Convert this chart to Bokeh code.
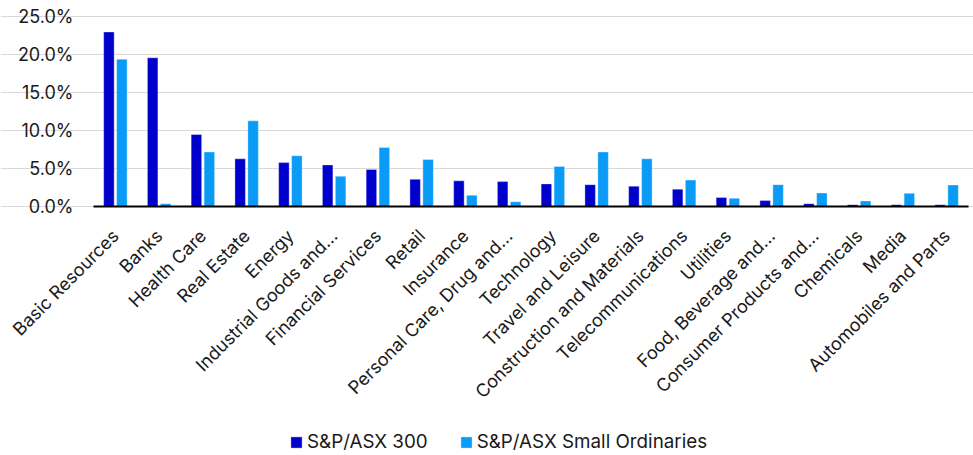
import math
from bokeh.plotting import figure
from bokeh.models import (ColumnDataSource, Range1d, FixedTicker, PrintfTickFormatter,
                          Legend, LegendItem)
from bokeh.transform import dodge
from bokeh.embed import file_html
from bokeh.resources import INLINE

categories = ["Basic Resources", "Banks", "Health Care", "Real Estate", "Energy",
              "Industrial Goods and\u2026", "Financial Services", "Retail", "Insurance",
              "Personal Care, Drug and\u2026", "Technology", "Travel and Leisure",
              "Construction and Materials", "Telecommunications", "Utilities",
              "Food, Beverage and\u2026", "Consumer Products and\u2026", "Chemicals",
              "Media", "Automobiles and Parts"]
asx300 = [23.0, 19.6, 9.5, 6.3, 5.8, 5.5, 4.9, 3.6, 3.4, 3.3, 3.0, 2.9, 2.7,
          2.3, 1.2, 0.8, 0.4, 0.26, 0.26, 0.25]
small_ords = [19.4, 0.4, 7.2, 11.3, 6.7, 4.0, 7.8, 6.2, 1.5, 0.66, 5.3, 7.2, 6.3,
              3.5, 1.1, 2.9, 1.8, 0.75, 1.75, 2.85]
y_ticks = [0, 5, 10, 15, 20, 25]
series_names = ["S&P/ASX 300", "S&P/ASX Small Ordinaries"]
colors = ["#0000CD", "#0A9BF7"]

FONT = "Inter"
TEXT = "#1A1A1A"

xpos = list(range(len(categories)))
n = len(categories)
src = ColumnDataSource(dict(x=xpos, a=asx300, b=small_ords))

# The frame covers the whole canvas; axes are pinned inside it so that
# the rotated labels and the legend are never clipped.
# 43.75 px per category, 7.6 px per 1 %.
p = figure(x_range=Range1d(-2.626, n - 0.5 + 5 / 43.75),
           y_range=Range1d(-249 / 7.6, 25 + 16.3 / 7.6),
           frame_width=973, frame_height=455,
           output_backend="svg", toolbar_location=None,
           min_border=0)
p.outline_line_color = None

r1 = p.vbar(x=dodge("x", -0.148), top="a", width=0.24, source=src,
            fill_color=colors[0], line_color="white", line_alpha=0.35, line_width=1)
r2 = p.vbar(x=dodge("x", 0.148), top="b", width=0.24, source=src,
            fill_color=colors[1], line_color="white", line_alpha=0.35, line_width=1)

yticker = FixedTicker(ticks=y_ticks)
p.xgrid.grid_line_color = None
p.ygrid.ticker = yticker
p.ygrid.bounds = (-0.5, n - 0.5)
p.ygrid.grid_line_color = "#D9D9D9"
p.ygrid.grid_line_width = 1.2

p.yaxis.fixed_location = -0.5
p.yaxis.ticker = yticker
p.yaxis.formatter = PrintfTickFormatter(format="%.1f%%")
p.yaxis.axis_line_color = None
p.yaxis.major_tick_line_color = None
p.yaxis.minor_tick_line_color = None
p.yaxis.major_label_standoff = 14

p.xaxis.fixed_location = 0
p.xaxis.bounds = (-0.5, n - 0.5)
p.xaxis.ticker = FixedTicker(ticks=xpos)
p.xaxis.major_label_overrides = {i: c for i, c in zip(xpos, categories)}
p.xaxis.axis_line_color = "#000000"
p.xaxis.axis_line_width = 2
p.xaxis.major_tick_line_color = None
p.xaxis.minor_tick_line_color = None
p.xaxis.major_label_orientation = math.pi / 4
p.xaxis.major_label_standoff = 20

for ax in (p.xaxis, p.yaxis):
    ax.major_label_text_font = FONT
    ax.major_label_text_font_size = "18px"
    ax.major_label_text_color = TEXT

legend = Legend(items=[LegendItem(label=series_names[0], renderers=[r1]),
                       LegendItem(label=series_names[1], renderers=[r2])],
                orientation="horizontal", location=(289, 2))
legend.label_text_font = FONT
legend.label_text_font_size = "18.8px"
legend.label_text_color = TEXT
legend.glyph_width = 14
legend.glyph_height = 14
legend.spacing = 31
legend.label_standoff = 4
legend.border_line_color = None
legend.background_fill_alpha = 0
legend.margin = 0
legend.padding = 0
p.add_layout(legend, "center")

open("out.html", "w").write(file_html(p, INLINE))
